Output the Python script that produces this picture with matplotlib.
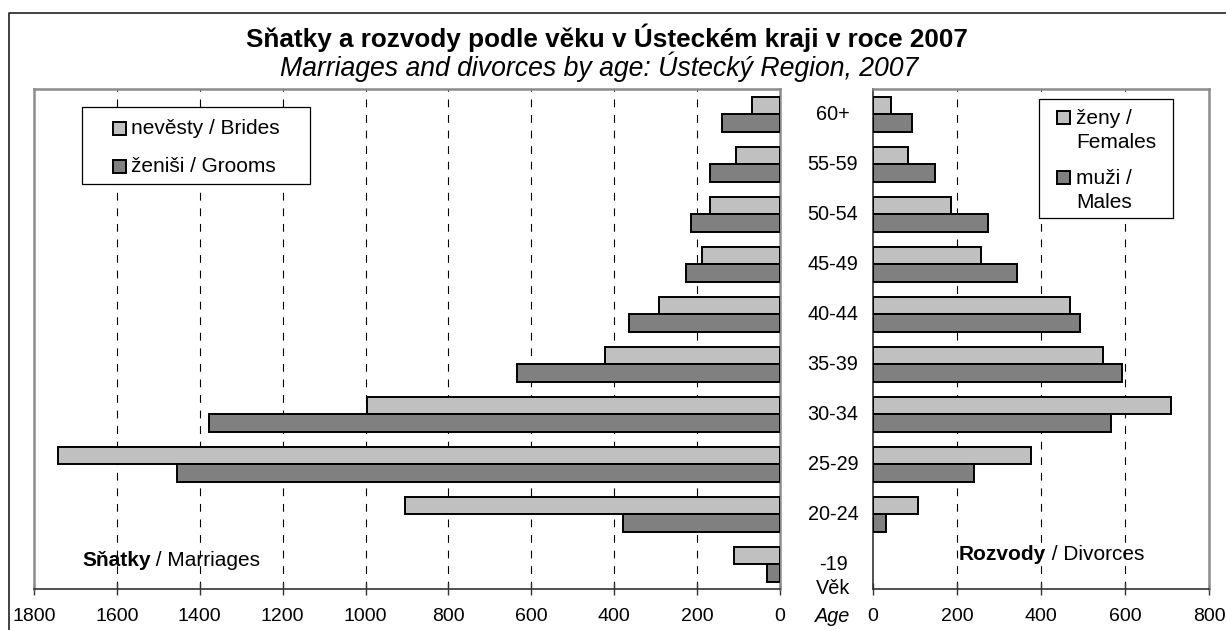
import matplotlib
matplotlib.use("Agg")
import matplotlib.pyplot as plt
from matplotlib.patches import Rectangle
from matplotlib.lines import Line2D
from matplotlib.transforms import Affine2D, blended_transform_factory

plt.rcParams['font.family'] = ['Liberation Sans', 'DejaVu Sans']

# ---- data ----
age_groups = ["-19", "20-24", "25-29", "30-34", "35-39", "40-44", "45-49", "50-54", "55-59", "60+"]
brides = [110, 905, 1743, 996, 422, 292, 187, 169, 105, 67]
grooms = [31, 380, 1455, 1377, 635, 365, 228, 215, 169, 141]
females = [0, 106, 375, 710, 548, 470, 258, 185, 83, 44]
males = [0, 32, 240, 566, 594, 494, 344, 274, 148, 94]
marr_ticks = [0, 200, 400, 600, 800, 1000, 1200, 1400, 1600, 1800]
div_ticks = [0, 200, 400, 600, 800]

title = "Sňatky a rozvody podle věku v Ústeckém kraji v roce 2007"
subtitle = "Marriages and divorces by age: Ústecký Region, 2007"
marr_legend = ["nevěsty / Brides", "ženiši / Grooms"]
div_legend = [["ženy /", "Females"], ["muži /", "Males"]]

LIGHT = "#C0C0C0"
DARK = "#808080"
FRAME = "#8C8C8C"
AXC = "#333333"
W, H = 1226, 630

fig = plt.figure(figsize=(W / 100, H / 100), dpi=100)
PX = Affine2D().scale(1 / W, -1 / H).translate(0, 1) + fig.transFigure


def fx(x):
    return x / W


def fy(y):
    return 1 - y / H


top, bot = 89, 589
axL = fig.add_axes([fx(34), fy(bot), fx(780) - fx(34), fy(top) - fy(bot)])
axR = fig.add_axes([fx(873), fy(bot), fx(1209) - fx(873), fy(top) - fy(bot)])

ypos = list(range(len(age_groups)))
bh = 0.35

axL.barh([y + bh / 2 for y in ypos], brides, height=bh, color=LIGHT, edgecolor="black", linewidth=1.4, zorder=3)
axL.barh([y - bh / 2 for y in ypos], grooms, height=bh, color=DARK, edgecolor="black", linewidth=1.4, zorder=3)
axR.barh([y + bh / 2 for y in ypos if females[y] > 0], [v for v in females if v > 0], height=bh,
         color=LIGHT, edgecolor="black", linewidth=1.4, zorder=3)
axR.barh([y - bh / 2 for y in ypos if males[y] > 0], [v for v in males if v > 0], height=bh,
         color=DARK, edgecolor="black", linewidth=1.4, zorder=3)

axL.set_xlim(1800, 0)
axR.set_xlim(0, 800)
for ax, ticks in ((axL, marr_ticks), (axR, div_ticks)):
    ax.set_ylim(-0.5, len(age_groups) - 0.5)
    ax.set_yticks([])
    ax.set_xticks(ticks)
    ax.set_xticklabels([str(t) for t in ticks])
    ax.tick_params(axis='x', direction='inout', length=8, width=1, color=AXC, labelsize=14, pad=10)
    lo, hi = min(ticks), max(ticks)
    for t in ticks:
        if lo < t < hi:
            ax.axvline(t, color="black", linewidth=0.8, linestyle=(0, (7, 7)), zorder=1)
    for s in ("top", "left", "right"):
        ax.spines[s].set_color(FRAME)
        ax.spines[s].set_linewidth(1.8)
    ax.spines["bottom"].set_color(AXC)
    ax.spines["bottom"].set_linewidth(1.2)
axR.spines["left"].set_color(AXC)
axR.spines["left"].set_linewidth(1.2)

# category labels between panels
bt = blended_transform_factory(fig.transFigure, axL.transData)
for y, lab in zip(ypos, age_groups):
    fig.text(fx(833), y, lab, transform=bt, ha="center", va="center", fontsize=14.3)
fig.text(833, 589, "Věk", transform=PX, ha="center", va="center", fontsize=14.3)
fig.text(833, 617, "Age", transform=PX, ha="center", va="center", fontsize=14.3, style="italic")

# titles
fig.text(607, 38, title, transform=PX, ha="center", va="center", fontsize=18.8, fontweight="bold")
fig.text(599, 67, subtitle, transform=PX, ha="center", va="center", fontsize=19.2, style="italic")

# panel labels (bold + regular)
fig.canvas.draw()
renderer = fig.canvas.get_renderer()


def two_part(x, y, bold, rest):
    t = fig.text(x, y, bold, transform=PX, ha="left", va="center", fontsize=15, fontweight="bold")
    bb = t.get_window_extent(renderer)
    fig.text(x + bb.width, y, rest, transform=PX, ha="left", va="center", fontsize=15)


two_part(82, 561, "Sňatky", " / Marriages")
two_part(959, 555, "Rozvody", " / Divorces")

# legends (manual)
fig.add_artist(Rectangle((82, 184), 228, -77, transform=PX, facecolor="white", edgecolor="black",
                         linewidth=0.9, zorder=5))
for cy, col, lab in ((128, LIGHT, marr_legend[0]), (166, DARK, marr_legend[1])):
    fig.add_artist(Rectangle((113, cy + 6.5), 13, -13, transform=PX, facecolor=col, edgecolor="black",
                             linewidth=1.4, zorder=6))
    fig.text(131, cy, lab, transform=PX, ha="left", va="center", fontsize=15, zorder=7)

fig.add_artist(Rectangle((1039, 218), 134, -119, transform=PX, facecolor="white", edgecolor="black",
                         linewidth=0.9, zorder=5))
for cy, col, lines in ((117, LIGHT, div_legend[0]), (177, DARK, div_legend[1])):
    fig.add_artist(Rectangle((1057, cy + 6.5), 13, -13, transform=PX, facecolor=col, edgecolor="black",
                             linewidth=1.4, zorder=6))
    fig.text(1076, cy + 1, lines[0], transform=PX, ha="left", va="center", fontsize=15, zorder=7)
    fig.text(1076, cy + 25, lines[1], transform=PX, ha="left", va="center", fontsize=15, zorder=7)

# outer border (left and top edges visible)
fig.add_artist(Line2D([9, 9, W + 5], [H + 5, 13, 13], transform=PX, color="#222222", linewidth=1.2))

fig.savefig("out.png", dpi=100)
